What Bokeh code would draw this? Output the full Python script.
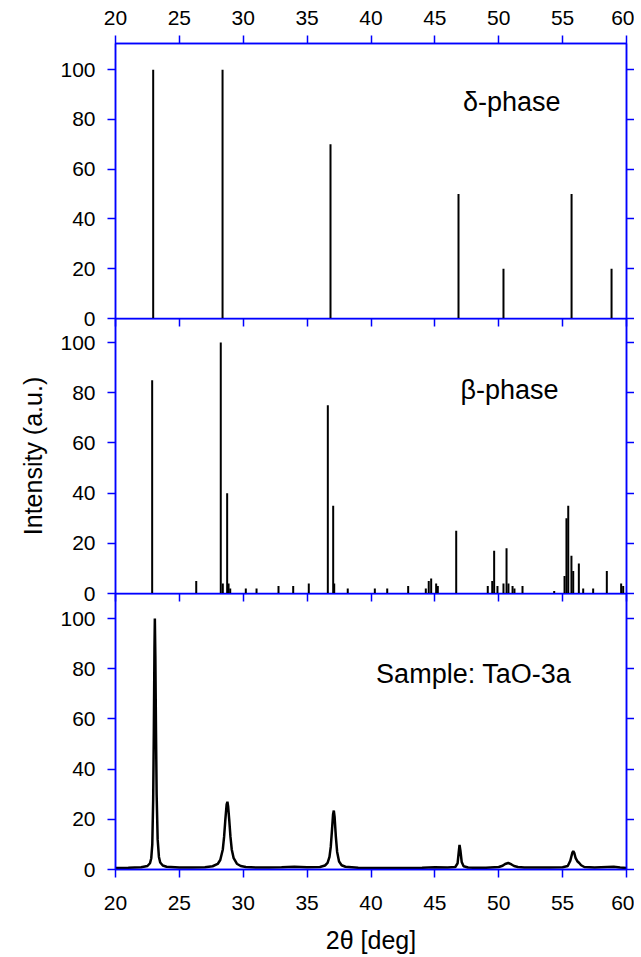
from bokeh.plotting import figure
from bokeh.models import LinearAxis, FixedTicker, Range1d, ColumnDataSource, Label
from bokeh.layouts import column
from bokeh.embed import file_html
from bokeh.resources import INLINE

# ---- data ----
x_ticks = [20, 25, 30, 35, 40, 45, 50, 55, 60]
y_ticks = [0, 20, 40, 60, 80, 100]

delta_pos = [22.95, 28.38, 36.83, 46.85, 50.37, 55.70, 58.83]
delta_int = [100, 100, 70, 50, 20, 50, 20]

beta_pos = [22.87, 26.32, 28.24, 28.40, 28.74, 28.85, 28.98, 30.20, 31.04, 32.76,
            33.91, 35.13, 36.62, 37.04, 37.12, 38.18, 40.30, 41.27, 42.91, 44.29,
            44.52, 44.71, 45.10, 45.23, 46.67, 49.14, 49.49, 49.64, 49.90, 50.37,
            50.61, 50.76, 51.08, 51.23, 51.86, 54.34, 55.15, 55.30, 55.44, 55.69,
            55.83, 56.27, 56.61, 57.39, 58.46, 59.58, 59.74]
beta_int = [85, 5, 100, 4, 40, 4, 2, 2, 2, 3,
            3, 4, 75, 35, 4, 2, 2, 2, 3, 2,
            5, 6, 4, 3, 25, 3, 5, 17, 3, 4,
            18, 4, 3, 2, 3, 1, 7, 30, 35, 15,
            9, 12, 2, 2, 9, 4, 3]

sample_2theta = [20.0, 21.0, 22.0, 22.5, 22.7, 22.8, 22.88, 22.95, 23.0, 23.05, 23.08,
                 23.12, 23.17, 23.22, 23.3, 23.4, 23.5, 23.7, 24.0, 25.0, 26.0, 27.0,
                 27.6, 28.0, 28.2, 28.4, 28.5, 28.6, 28.7, 28.76, 28.82, 28.9, 29.0,
                 29.1, 29.25, 29.5, 29.8, 30.2, 31.0, 32.0, 33.0, 34.0, 35.0, 36.0,
                 36.4, 36.6, 36.75, 36.85, 36.95, 37.03, 37.09, 37.15, 37.25, 37.35,
                 37.5, 37.7, 38.0, 39.0, 40.0, 41.0, 42.0, 43.0, 44.0, 45.0, 46.0,
                 46.6, 46.78, 46.87, 46.93, 47.0, 47.1, 47.25, 47.6, 48.0, 49.0, 50.0,
                 50.3, 50.5, 50.74, 51.0, 51.2, 51.5, 52.0, 53.0, 54.0, 55.0, 55.4,
                 55.6, 55.75, 55.83, 55.92, 56.02, 56.15, 56.3, 56.45, 56.7, 57.5,
                 58.5, 59.0, 59.5, 60.0]
sample_int = [0.6, 0.7, 0.9, 1.4, 2.5, 4.5, 10, 28, 55, 88, 100,
              85, 55, 30, 12, 5, 2.8, 1.6, 1.1, 0.8, 0.8, 0.9,
              1.3, 2.2, 3.8, 8, 13, 20, 26, 27, 25, 20, 13,
              8, 4.5, 2.3, 1.4, 1.0, 0.8, 0.8, 0.9, 1.1, 0.9, 1.0,
              1.6, 2.6, 5, 9, 16, 22, 23.5, 21, 13, 7,
              3.2, 1.7, 1.1, 0.7, 0.6, 0.6, 0.6, 0.6, 0.7, 0.9, 0.8,
              1.0, 2.5, 7, 9.8, 7.5, 3, 1.3, 0.8, 0.7, 0.7, 1.0,
              1.5, 2.2, 2.6, 2.0, 1.4, 1.0, 0.8, 0.8, 0.8, 0.9, 1.4,
              3.5, 6.5, 7.3, 6.5, 4.5, 3.3, 2.6, 1.7, 1.0, 0.8,
              1.0, 1.1, 0.8, 0.6]

FONT = "Liberation Sans"
BLUE = "#0000ff"
OVERLAP = 12


def axis(labels=True, tick_in=0, tick_out=8, ticks=None, standoff=12, label=None, label_standoff=10):
    ax = LinearAxis(ticker=FixedTicker(ticks=ticks, minor_ticks=[]),
                    axis_line_color=BLUE, axis_line_width=1.5,
                    major_tick_line_color=BLUE, major_tick_line_width=1.5,
                    major_tick_in=tick_in, major_tick_out=tick_out,
                    minor_tick_line_color=None)
    if labels:
        ax.major_label_text_font = FONT
        ax.major_label_text_font_size = "21px"
        ax.major_label_text_color = "black"
        ax.major_label_standoff = standoff
    else:
        ax.major_label_text_font_size = "0px"
        ax.major_label_text_color = None
        ax.major_label_standoff = 0
    if label is not None:
        ax.axis_label = label
        ax.axis_label_text_font = FONT
        ax.axis_label_text_font_size = "25px"
        ax.axis_label_text_font_style = "normal"
        ax.axis_label_text_color = "black"
        ax.axis_label_standoff = label_standoff
    return ax


def panel(height, top, bottom, ymax, overlap_above=False):
    kw = {}
    if overlap_above:
        kw["styles"] = {"margin-top": f"-{OVERLAP}px"}
    p = figure(width=634, height=height, x_range=Range1d(20, 60), y_range=Range1d(0, ymax),
               output_backend="svg", toolbar_location=None,
               x_axis_location=None, y_axis_location=None,
               min_border_left=115, min_border_right=8,
               min_border_top=top, min_border_bottom=bottom, **kw)
    p.outline_line_color = BLUE
    p.outline_line_width = 1.5
    p.grid.visible = False
    p.background_fill_alpha = 0
    p.border_fill_alpha = 0
    return p


# panel 1: delta phase
p1 = panel(43 + 275 + OVERLAP, 43, OVERLAP, 110.5)
p1.add_layout(axis(ticks=x_ticks, standoff=11), "above")
p1.add_layout(axis(ticks=y_ticks), "left")
p1.add_layout(axis(labels=False, ticks=y_ticks), "right")
s1 = ColumnDataSource(dict(x=delta_pos, y=delta_int, z=[0] * len(delta_pos)))
p1.segment(x0="x", y0="z", x1="x", y1="y", source=s1, line_color="black", line_width=2)
p1.add_layout(Label(x=47.2, y=87, text="δ-phase", text_font=FONT, text_font_size="27px",
                    text_baseline="middle", text_align="left", text_color="black"))

# panel 2: beta phase
p2 = panel(275 + OVERLAP, 0, OVERLAP, 109.6, overlap_above=True)
p2.add_layout(axis(labels=False, tick_in=8, tick_out=0, ticks=x_ticks), "above")
p2.add_layout(axis(ticks=y_ticks, label="Intensity (a.u.)", label_standoff=10), "left")
p2.add_layout(axis(labels=False, ticks=y_ticks), "right")
s2 = ColumnDataSource(dict(x=beta_pos, y=beta_int, z=[0] * len(beta_pos)))
p2.segment(x0="x", y0="z", x1="x", y1="y", source=s2, line_color="black", line_width=2)
p2.add_layout(Label(x=47.0, y=81, text="β-phase", text_font=FONT, text_font_size="27px",
                    text_baseline="middle", text_align="left", text_color="black"))

# panel 3: sample
p3 = panel(276 + 88, 0, 88, 110, overlap_above=True)
p3.add_layout(axis(labels=False, tick_in=8, tick_out=0, ticks=x_ticks), "above")
p3.add_layout(axis(ticks=y_ticks), "left")
p3.add_layout(axis(labels=False, ticks=y_ticks), "right")
p3.add_layout(axis(ticks=x_ticks, standoff=18, label="2θ [deg]", label_standoff=13), "below")
s3 = ColumnDataSource(dict(x=sample_2theta, y=sample_int))
p3.line(x="x", y="y", source=s3, line_color="black", line_width=2.5)
p3.add_layout(Label(x=40.4, y=78, text="Sample: TaO-3a", text_font=FONT, text_font_size="27px",
                    text_baseline="middle", text_align="left", text_color="black"))

layout = column(p1, p2, p3, spacing=0)
open("out.html", "w").write(file_html(layout, INLINE))
